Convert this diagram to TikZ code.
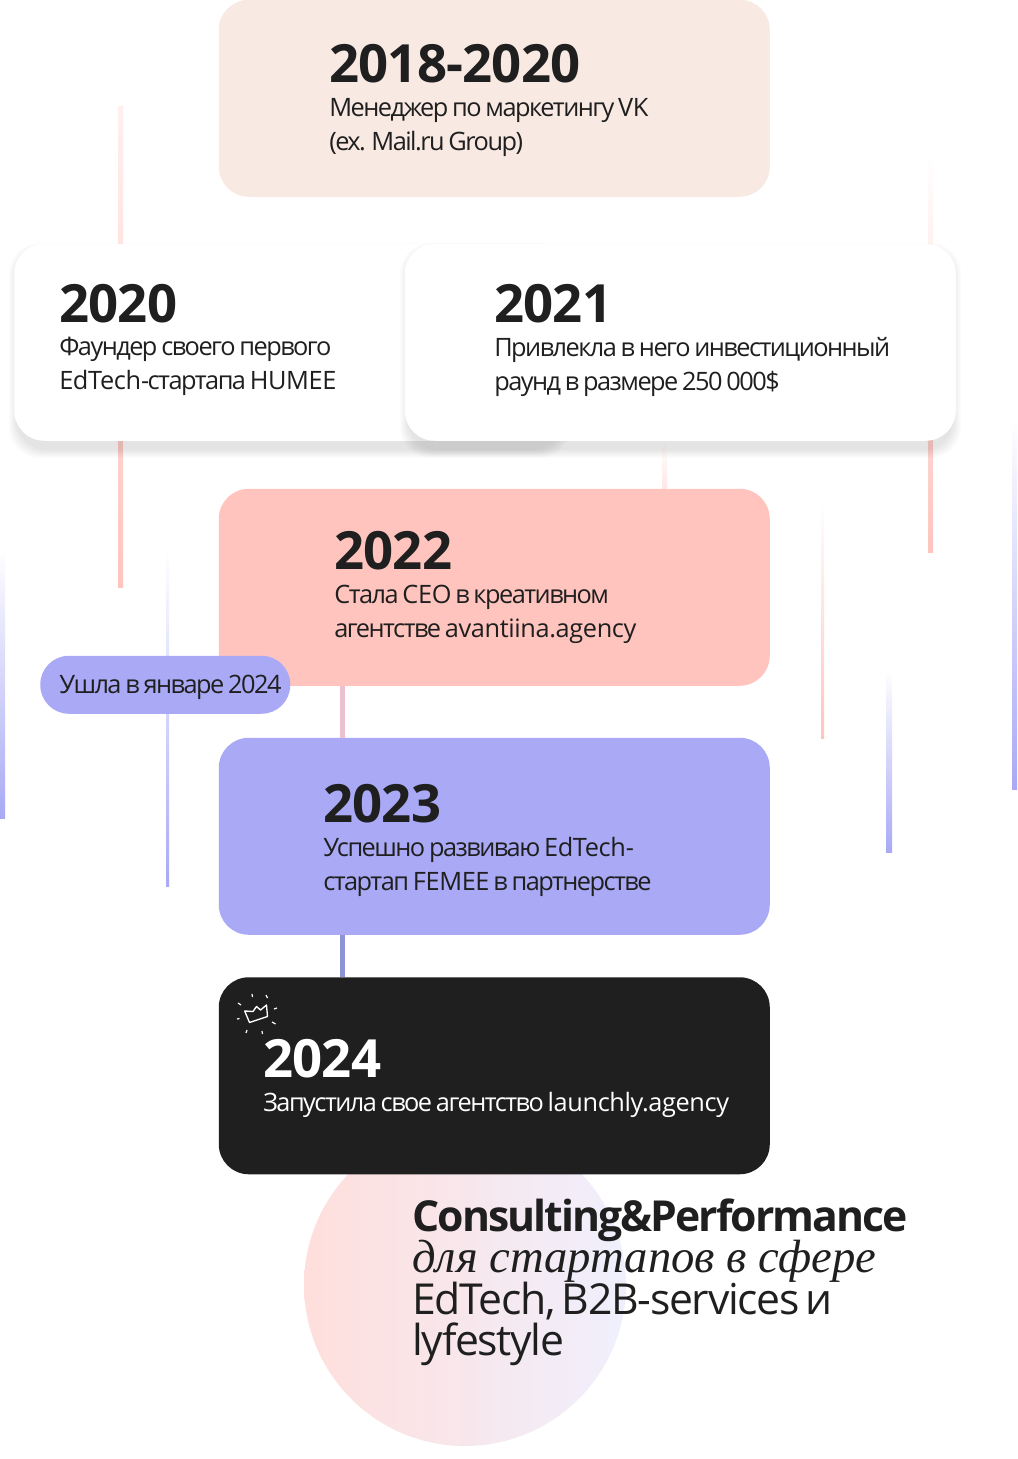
\documentclass[tikz,border=0pt]{standalone}
\usepackage{fontspec}
\setmainfont{Open Sans}
\newfontfamily\bodyfont[LetterSpace=-6,WordSpace=0.75]{Open Sans}
\newfontfamily\latfont[LetterSpace=-1.5,WordSpace=0.75]{Open Sans}
\newfontfamily\yearfont[LetterSpace=-1.5]{Open Sans}
\newfontfamily\headfont[LetterSpace=-4.5]{Open Sans}
\newfontfamily\tailfont[LetterSpace=-3,WordSpace=0.6]{Open Sans}
\newfontfamily\slogfont[Ligatures=TeX]{Liberation Serif}
\usetikzlibrary{positioning,calc}

\newcommand{\lat}[1]{{\latfont #1}}

\definecolor{inkdark}{HTML}{1F1F1F}
\definecolor{cardsand}{HTML}{F8E9E2}
\definecolor{cardpink}{HTML}{FFC4BE}
\definecolor{cardlilac}{HTML}{A9A9F5}
\definecolor{linkpink}{HTML}{EBC1CF}
\definecolor{linklilac}{HTML}{8E93D6}

\tikzset{
  cardbox/.style={anchor=north west,rounded corners=22.5pt,minimum width=413.25pt,minimum height=147.75pt,inner sep=0pt},
  yeartext/.style={anchor=base west,inner sep=0pt,text=inkdark,font=\yearfont\fontsize{39.5}{39.5}\selectfont\bfseries},
  desctext/.style={anchor=north west,inner sep=0pt,align=left,text=inkdark,font=\bodyfont\fontsize{19}{25.5}\selectfont},
  linklink/.style={line width=3.75pt}
}

\begin{document}
\begin{tikzpicture}[x=0.75pt,y=-0.75pt]
  \useasboundingbox (0,0) rectangle (1017,1459);

  % Hintergrundlinien
  \foreach \lx/\ly/\lw/\lh/\lcol/\ltop in {118/107/5/480/cardpink/cardpink!25,928/150/5/402/cardpink/white,662/441/5/120/cardpink/white,
      821/500/3/238/cardpink/white,886/670/6/182/cardlilac/white,0/550/5/268/cardlilac/white,1012/420/5/369/cardlilac/white,166/550/3/336/cardlilac/white} {
    \shade[top color=\ltop,bottom color=\lcol] (\lx,\ly) rectangle ++(\lw,\lh);
  }

  % Kreis
  \shade[left color=cardpink!55!white,right color=cardlilac!18!white] (465,1285) circle (161);

  % Karten
  \node[cardbox,fill=cardsand] (card2018) at (218.5,-0.5) {};

  \foreach \oo in {1,...,9} {
    \fill[black,opacity=0.013,rounded corners=22.5pt] ({14-\oo+4},{244-\oo+8}) rectangle ({565+\oo-4},{441+\oo+8});
  }
  \node[cardbox,fill=white] (card2020) at (14,243.5) {};
  \foreach \oo in {1,...,9} {
    \fill[black,opacity=0.013,rounded corners=22.5pt] ({405-\oo+4},{244-\oo+8}) rectangle ({956+\oo-4},{441+\oo+8});
  }
  \node[cardbox,fill=white] (card2021) at (404.5,243.5) {};

  \node[cardbox,fill=cardpink] (card2022) at (218.5,488.5) {};
  \node[cardbox,fill=cardlilac] (card2023) at (218.5,737.5) {};
  \node[cardbox,fill=inkdark] (card2024) at (218.5,977) {};

  % Verbindungen
  \coordinate (linkx) at (342,0);
  \draw[linklink,linkpink] (card2022.south-|linkx) -- (card2023.north-|linkx);
  \draw[linklink,linklilac] (card2023.south-|linkx) -- (card2024.north-|linkx);

  % Pille
  \node[anchor=north west,fill=cardlilac,rounded corners=21.5pt,minimum width=187.5pt,minimum height=43.5pt,inner sep=0pt] (pilljan) at (40,655.5) {};
  \node[anchor=west,inner sep=0pt,text=inkdark,font=\bodyfont\fontsize{19}{25.5}\selectfont] (pilltext) at (59,687) {Ушла в январе 2024};

  % Jahre
  \node[yeartext] (year2018) at (329,83) {2018-2020};
  \node[desctext] (desc2018) at (329,98) {Менеджер по маркетингу \lat{VK}\\(ex. Mail.ru Group)};
  \node[yeartext] (year2020) at (59,322) {2020};
  \node[desctext] (desc2020) at (59,337) {Фаундер своего первого\\\lat{EdTech}-стартапа \lat{HUMEE}};
  \node[yeartext] (year2021) at (494,322) {2021};
  \node[desctext] (desc2021) at (494,337) {Привлекла в него инвестиционный\\раунд в размере 250 000\$};
  \node[yeartext] (year2022) at (334,569) {2022};
  \node[desctext] (desc2022) at (334,585) {Стала \lat{CEO} в креативном\\агентстве \lat{avantiina.agency}};
  \node[yeartext] (year2023) at (323,822) {2023};
  \node[desctext] (desc2023) at (323,837) {Успешно развиваю \lat{EdTech}-\\стартап \lat{FEMEE} в партнерстве};
  \node[yeartext,text=white] (year2024) at (263,1077) {2024};
  \node[desctext,text=white] (desc2024) at (263,1092) {Запустила свое агентство \lat{launchly.agency}};

  % Krone
  \draw[white,line width=1pt,line join=round] (244.7,1011) -- (249.5,1022.5) -- (267.5,1016.5) -- (266.5,1005) -- (260.5,1010) -- (256.5,1006.5) -- (253,1011.5) -- cycle;
  \foreach \ax/\ay/\bx/\by in {238/1003/241/1005,252/994/252.5/997,266/995/267.5/998,274/1009/277/1008,272/1022/275.5/1024,
      262/1031/262.5/1034,247/1030/246/1033,237/1019/239.5/1018.5} {
    \draw[white,line width=0.9pt] (\ax,\ay) -- (\bx,\by);
  }

  % Unterschrift
  \node[anchor=base west,inner sep=0pt,text=inkdark,font=\headfont\fontsize{32}{32}\selectfont\bfseries] (slogan1) at (412,1231) {Consulting\&Performance};
  \node[anchor=base west,inner sep=0pt,text=inkdark,font=\slogfont\fontsize{35}{35}\selectfont\itshape] (slogan2) at (412,1272) {для стартапов в сфере};
  \node[anchor=base west,inner sep=0pt,text=inkdark,font=\tailfont\fontsize{32}{32}\selectfont] (slogan3) at (412,1314) {EdTech, B2B-services и};
  \node[anchor=base west,inner sep=0pt,text=inkdark,font=\tailfont\fontsize{32}{32}\selectfont] (slogan4) at (412,1355) {lyfestyle};
\end{tikzpicture}
\end{document}
